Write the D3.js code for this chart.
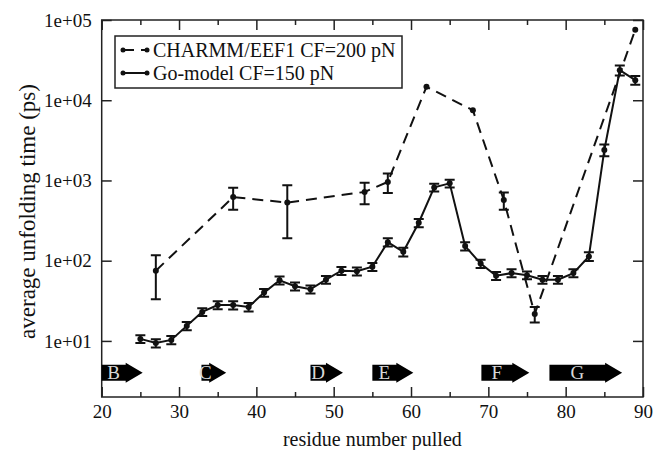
<!DOCTYPE html>
<html>
<head>
<meta charset="utf-8">
<script src="https://cdn.jsdelivr.net/npm/d3@7"></script>
<style>
    body { margin: 0; background: #fff; }
    svg text { font-family: 'Liberation Serif', 'Times New Roman', serif; fill: #111; }
    .frame { fill: none; stroke: #222; stroke-width: 1.5; }
    .axis path { display: none; }
    .axis line { stroke: #222; stroke-width: 1.5; }
    .tick-label text { font-size: 19px; }
</style>
</head>
<body>
<div id="chartDiv"></div>
<script>
// go-model pulls, CF = 150 pN
const goResidues = [25, 27, 29, 31, 33, 35, 37, 39, 41, 43, 45, 47, 49, 51, 53, 55, 57,
                    59, 61, 63, 65, 67, 69, 71, 73, 75, 77, 79, 81, 83, 85, 87, 89];
const goTimes = [10.6, 9.4, 10.3, 15.4, 23, 28, 28, 26.5, 40, 57, 48, 44, 58, 75, 74, 84, 170,
                 129, 297, 820, 920, 152, 92, 65, 70, 66, 58, 58, 70, 113, 2400, 23700, 17800];
const goErrors = [1.2, 1.1, 1.2, 1.8, 2.6, 3.2, 3.3, 3.2, 4.5, 6.5, 5.5, 5, 6.5, 8.5, 8.5, 9.5, 20,
                  16, 35, 90, 100, 18, 11, 7.5, 8, 7.5, 6.5, 6.5, 8, 14, 400, 3300, 2200];

// CHARMM/EEF1 pulls, CF = 200 pN
const charmmResidues = [27, 37, 44, 54, 57, 62, 68, 72, 76, 89];
const charmmTimes = [75, 620, 530, 720, 960, 14700, 7500, 570, 21.7, 75700];
const charmmErrors = [42, 190, 340, 215, 260, 0, 0, 140, 4.7, 0];

// beta strands drawn along the bottom
const strandNames = ['B', 'C', 'D', 'E', 'F', 'G'];
const strandStart = [20, 32.9, 47, 55, 69.1, 77.9];
const strandEnd = [25.3, 36.1, 51.2, 60.3, 75.3, 87.3];
const strandLevel = 4;

const xMajorTicks = [20, 30, 40, 50, 60, 70, 80, 90];
const xMinorTicks = [25, 35, 45, 55, 65, 75, 85];
const yTicks = [1e1, 1e2, 1e3, 1e4, 1e5];

const legendLabels = ['CHARMM/EEF1 CF=200 pN', 'Go-model CF=150 pN'];

class UnfoldingPlot {
    constructor() {
        this.width = 664;
        this.height = 450;
        this.plot = { left: 101.7, right: 643, top: 20, bottom: 397 };

        this.xScale = d3.scaleLinear()
            .domain([20, 90])
            .range([this.plot.left, this.plot.right]);
        this.yScale = d3.scaleLog()
            .domain([2, 1e5])
            .range([this.plot.bottom, this.plot.top]);

        this.svg = d3.select('#chartDiv')
            .append('svg')
            .attr('width', this.width)
            .attr('height', this.height);

        this.drawAxes();
        this.drawStrands();
        this.drawSeries(charmmResidues, charmmTimes, charmmErrors, '11,7');
        this.drawSeries(goResidues, goTimes, goErrors, null);
        this.drawLegend();
    }

    drawAxes() {
        let p = this.plot;
        let yFmt = d => '1e+' + String(Math.round(Math.log10(d))).padStart(2, '0');

        // bottom: labelled majors, short minors
        this.svg.append('g')
            .classed('axis', true).classed('tick-label', true)
            .attr('transform', `translate(0, ${p.bottom})`)
            .call(d3.axisBottom(this.xScale).tickValues(xMajorTicks).tickSize(-10)
                .tickPadding(8).tickFormat(d3.format('d')));
        this.svg.append('g')
            .classed('axis', true)
            .attr('transform', `translate(0, ${p.bottom})`)
            .call(d3.axisBottom(this.xScale).tickValues(xMinorTicks).tickSize(-5).tickFormat(''));
        // top mirror
        this.svg.append('g')
            .classed('axis', true)
            .attr('transform', `translate(0, ${p.top})`)
            .call(d3.axisTop(this.xScale).tickValues(xMajorTicks).tickSize(-10).tickFormat(''));
        this.svg.append('g')
            .classed('axis', true)
            .attr('transform', `translate(0, ${p.top})`)
            .call(d3.axisTop(this.xScale).tickValues(xMinorTicks).tickSize(-5).tickFormat(''));

        // left + right
        this.svg.append('g')
            .classed('axis', true).classed('tick-label', true)
            .attr('transform', `translate(${p.left}, 0)`)
            .call(d3.axisLeft(this.yScale).tickValues(yTicks).tickSize(-10)
                .tickPadding(10).tickFormat(yFmt));
        this.svg.append('g')
            .classed('axis', true)
            .attr('transform', `translate(${p.right}, 0)`)
            .call(d3.axisRight(this.yScale).tickValues(yTicks).tickSize(-10).tickFormat(''));

        this.svg.selectAll('.tick-label text').attr('fill', '#111');

        this.svg.append('rect')
            .classed('frame', true)
            .attr('x', p.left).attr('y', p.top)
            .attr('width', p.right - p.left)
            .attr('height', p.bottom - p.top);

        this.svg.append('text')
            .text('residue number pulled')
            .attr('text-anchor', 'middle')
            .attr('font-size', 20)
            .attr('x', (p.left + p.right) / 2)
            .attr('y', 446);
        this.svg.append('text')
            .text('average unfolding time (ps)')
            .attr('text-anchor', 'middle')
            .attr('font-size', 23)
            .attr('transform', `translate(35, ${(p.top + p.bottom) / 2 + 3}) rotate(-90)`);
    }

    drawStrands() {
        let headLen = 17, bodyH = 16, headH = 20;
        let yc = this.yScale(strandLevel);
        let g = this.svg.append('g').attr('id', 'strands');
        strandNames.forEach((name, i) => {
            let x0 = this.xScale(strandStart[i]);
            let x1 = this.xScale(strandEnd[i]);
            let xh = x1 - headLen;
            let pts = [
                [x0, yc - bodyH / 2], [xh, yc - bodyH / 2], [xh, yc - headH / 2],
                [x1, yc], [xh, yc + headH / 2], [xh, yc + bodyH / 2], [x0, yc + bodyH / 2]
            ];
            g.append('path')
                .attr('d', d3.line()(pts) + 'Z')
                .attr('fill', '#000');
            g.append('text')
                .text(name)
                .attr('x', (x0 + xh) / 2)
                .attr('y', yc + 6.5)
                .attr('text-anchor', 'middle')
                .attr('font-size', 19)
                .style('fill', '#d8d8d8');
        });
    }

    drawSeries(xs, ys, errs, dash) {
        let g = this.svg.append('g');
        let pts = xs.map((x, i) => [this.xScale(x), this.yScale(ys[i])]);
        g.append('path')
            .attr('d', d3.line()(pts))
            .attr('fill', 'none')
            .attr('stroke', '#111')
            .attr('stroke-width', 2)
            .attr('stroke-dasharray', dash);

        let capW = 5;
        xs.forEach((x, i) => {
            if (!errs[i]) return;
            let px = this.xScale(x);
            let hi = this.yScale(ys[i] + errs[i]);
            let lo = this.yScale(Math.max(ys[i] - errs[i], 2.01));
            let path = `M${px},${hi}V${lo}M${px - capW},${hi}H${px + capW}M${px - capW},${lo}H${px + capW}`;
            g.append('path')
                .attr('d', path)
                .attr('fill', 'none')
                .attr('stroke', '#111')
                .attr('stroke-width', 2);
        });

        g.selectAll('circle')
            .data(pts)
            .enter().append('circle')
            .attr('cx', d => d[0])
            .attr('cy', d => d[1])
            .attr('r', 3)
            .attr('fill', '#111');
    }

    drawLegend() {
        let g = this.svg.append('g').attr('id', 'legend');
        g.append('rect')
            .attr('x', 115).attr('y', 36)
            .attr('width', 287).attr('height', 52)
            .attr('fill', '#fff')
            .attr('stroke', '#222')
            .attr('stroke-width', 1.5);
        let dashes = ['11,7', null];
        legendLabels.forEach((label, i) => {
            let y = 50 + i * 23;
            g.append('line')
                .attr('x1', 123).attr('x2', 147)
                .attr('y1', y).attr('y2', y)
                .attr('stroke', '#111')
                .attr('stroke-width', 2)
                .attr('stroke-dasharray', dashes[i]);
            g.selectAll(null)
                .data([123, 147])
                .enter().append('circle')
                .attr('cx', d => d).attr('cy', y).attr('r', 2.5)
                .attr('fill', '#111');
            g.append('text')
                .text(label)
                .attr('x', 153)
                .attr('y', y + 7)
                .attr('font-size', 20);
        });
    }
}

new UnfoldingPlot();
</script>
</body>
</html>
